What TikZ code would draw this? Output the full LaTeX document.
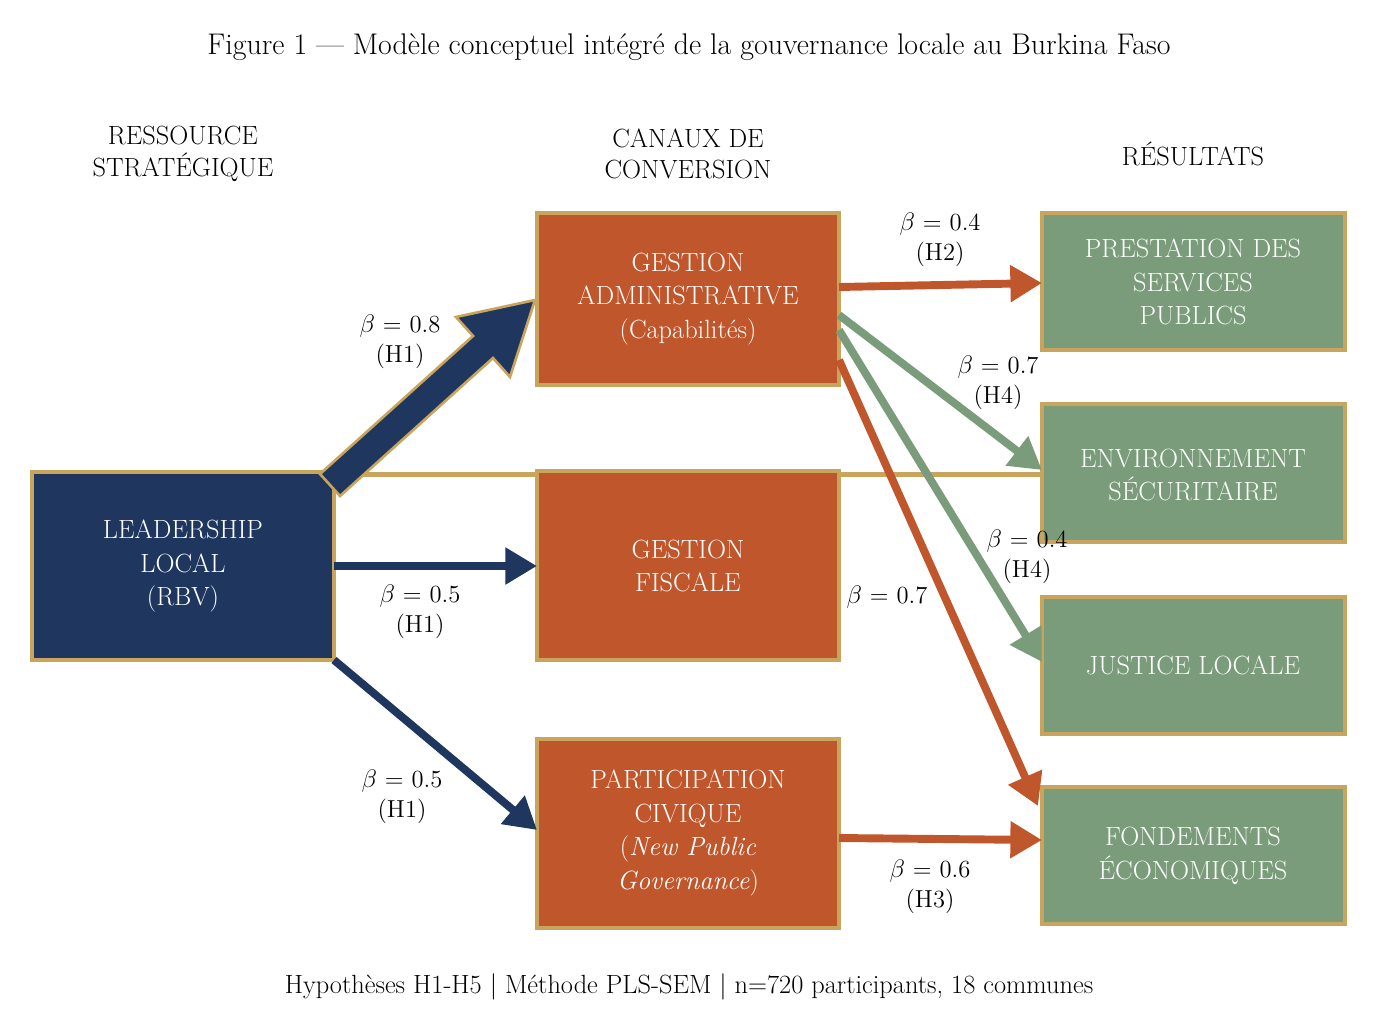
\documentclass[tikz,border=0pt]{standalone}
\usetikzlibrary{arrows.meta}
\definecolor{navy}{HTML}{1F365F}
\definecolor{rust}{HTML}{C0562B}
\definecolor{sage}{HTML}{7A9C7B}
\definecolor{gold}{HTML}{C9A45C}
\begin{document}
\begin{tikzpicture}[x=0.02cm,y=-0.02cm,
  box/.style={draw=gold,line width=2pt,text=white,align=center,inner sep=0pt,font=\fontsize{15}{19}\selectfont},
  lbl/.style={align=center,font=\fontsize{14}{17}\selectfont},
  hdr/.style={align=center,font=\fontsize{15}{18}\selectfont},
  arr/.style={line width=4.5pt,-{Triangle[length=18pt,width=20pt]}}]
\useasboundingbox (0,0) rectangle (1379,1029);
\node[font=\fontsize{17}{20}\selectfont] (title) at (689,47) {Figure 1 --- Modèle conceptuel intégré de la gouvernance locale au Burkina Faso};
\node[hdr] (h1) at (183,154) {RESSOURCE\\STRATÉGIQUE};
\node[hdr] (h2) at (688,154) {CANAUX DE\\CONVERSION};
\node[hdr] (h3) at (1193,154) {RÉSULTATS};
\node[box,fill=navy,minimum width=302\pgflinewidth,anchor=north west] (lead) at (32,472) {};
\path[box,fill=navy] (32,472) rectangle (334,660);
\node[text=white,align=center,font=\fontsize{15}{19}\selectfont] (leadt) at (183,566) {LEADERSHIP\\LOCAL\\(RBV)};
\path[box,fill=rust] (537,213) rectangle (839,385);
\node[text=white,align=center,font=\fontsize{15}{19}\selectfont] (adm) at (688,299) {GESTION\\ADMINISTRATIVE\\(Capabilités)};
\path[box,fill=rust] (537,471) rectangle (839,660);
\node[text=white,align=center,font=\fontsize{15}{19}\selectfont] (fis) at (688,566) {GESTION\\FISCALE};
\path[box,fill=rust] (537,739) rectangle (839,928);
\node[text=white,align=center,font=\fontsize{15}{19}\selectfont] (par) at (688,833) {PARTICIPATION\\CIVIQUE\\(\textit{New Public}\\\textit{Governance})};
\path[box,fill=sage] (1042,213) rectangle (1345,350);
\node[text=white,align=center,font=\fontsize{15}{19}\selectfont] (pre) at (1193,282) {PRESTATION DES\\SERVICES\\PUBLICS};
\path[box,fill=sage] (1042,404) rectangle (1345,542);
\node[text=white,align=center,font=\fontsize{15}{19}\selectfont] (env) at (1193,475) {ENVIRONNEMENT\\SÉCURITAIRE};
\path[box,fill=sage] (1042,597) rectangle (1345,734);
\node[text=white,align=center,font=\fontsize{15}{19}\selectfont] (jus) at (1193,665) {JUSTICE LOCALE};
\path[box,fill=sage] (1042,787) rectangle (1345,924);
\node[text=white,align=center,font=\fontsize{15}{19}\selectfont] (fon) at (1193,856) {FONDEMENTS\\ÉCONOMIQUES};
% big arrow
\fill[navy,draw=gold,line width=1.5pt,line join=miter] (340,496) -- (320,474) -- (473,336) -- (456,317) -- (535,300) -- (510,377) -- (493,358) -- cycle;
\coordinate (a1) at (334,566); \coordinate (b1) at (537,566);
\draw[arr,navy] (a1) -- (b1);
\coordinate (a2) at (334,660); \coordinate (b2) at (537,830);
\draw[arr,navy] (a2) -- (b2);
\coordinate (c1) at (839,287); \coordinate (d1) at (1042,283);
\draw[arr,rust] (c1) -- (d1);
\coordinate (c2) at (839,315); \coordinate (d2) at (1042,470);
\draw[arr,sage] (c2) -- (d2);
\coordinate (c3) at (839,330); \coordinate (d3) at (1042,662);
\draw[arr,sage] (c3) -- (d3);
\coordinate (c4) at (839,360); \coordinate (d4) at (1038,806);
\draw[arr,rust] (c4) -- (d4);
\coordinate (c5) at (839,838); \coordinate (d5) at (1042,840);
\draw[arr,rust] (c5) -- (d5);
\node[lbl] (l1) at (400,342) {$\beta$ = 0.8\\(H1)};
\node[lbl] (l2) at (420,612) {$\beta$ = 0.5\\(H1)};
\node[lbl] (l3) at (402,797) {$\beta$ = 0.5\\(H1)};
\node[lbl] (l4) at (940,240) {$\beta$ = 0.4\\(H2)};
\node[lbl] (l5) at (998,383) {$\beta$ = 0.7\\(H4)};
\node[lbl] (l6) at (1027,557) {$\beta$ = 0.4\\(H4)};
\node[lbl] (l7) at (887,597) {$\beta$ = 0.7};
\node[lbl] (l8) at (930,887) {$\beta$ = 0.6\\(H3)};
\node[font=\fontsize{15}{18}\selectfont] (foot) at (689,987) {Hypothèses H1-H5 | Méthode PLS-SEM | n=720 participants, 18 communes};
\end{tikzpicture}
\end{document}
